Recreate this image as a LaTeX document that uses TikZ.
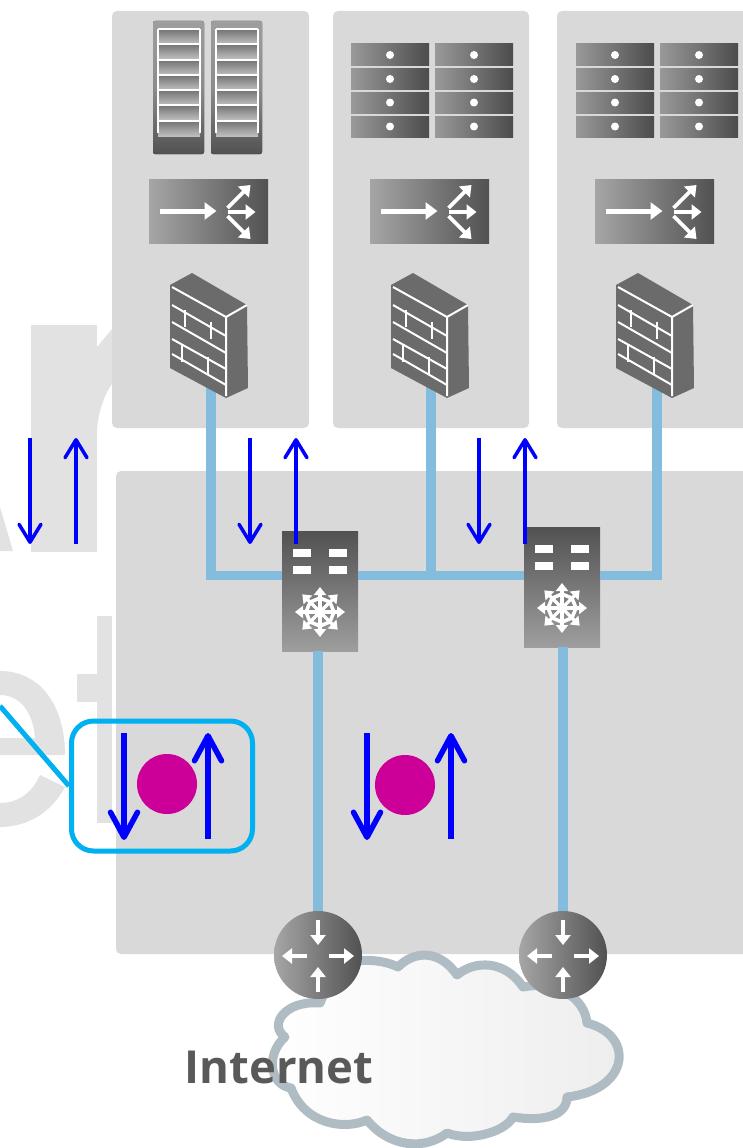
\documentclass[tikz,border=0pt]{standalone}
\usepackage{fontspec}
\newfontfamily\labelfont[Scale=1]{Open Sans}
\usetikzlibrary{arrows.meta}
\definecolor{panelgray}{HTML}{D9D9D9}
\definecolor{markgray}{HTML}{E2E2E2}
\definecolor{linkblue}{HTML}{84BCDD}
\definecolor{focusblue}{HTML}{00B0F0}
\definecolor{dotpink}{HTML}{CC0099}
\definecolor{cloudgray}{HTML}{B0BCC4}
\definecolor{flowblue}{HTML}{0000FF}
\tikzset{
  panel/.style={fill=panelgray,rounded corners=5pt},
  bigletter/.style={fill=markgray},
  linkline/.style={draw=linkblue,line width=9.5pt},
  lightdark/.style={left color=black!35,right color=black!68},
  whitehead/.style={white,line width=3.6pt,-{Triangle[length=10pt,width=15pt]}},
  fwbox/.style={minimum width=78pt,minimum height=125pt,inner sep=0pt},
  lbbox/.style={lightdark,minimum width=119pt,minimum height=64pt,inner sep=0pt},
  swbox/.style={top color=black!68,bottom color=black!38,minimum width=76pt,minimum height=120pt,inner sep=0pt},
  rtbox/.style={circle,lightdark,minimum size=88pt,inner sep=0pt},
  dotnode/.style={circle,fill=dotpink,minimum size=60pt,inner sep=0pt},
  focusbox/.style={draw=focusblue,line width=5pt,rounded corners=22pt,minimum width=181pt,minimum height=130pt,inner sep=0pt},
  thinflow/.style={flowblue,line width=3.5pt,-{Straight Barb[round,length=18pt,width=22pt]}},
  boldflow/.style={flowblue,line width=5.5pt,-{Straight Barb[round,length=25pt,width=27pt]}},
  lbicon/.pic={
    \draw[white,line width=5pt,-{Triangle[length=12pt,width=17pt]}] (-49,0)--(8,0);
    \draw[whitehead] (19,1)--(47,1);
    \draw[whitehead] (19,-3)--(42,-26);
    \draw[whitehead] (19,5)--(42,28);
  },
  fwicon/.pic={
    \fill[black!58] (-40,-51)--(-18,-63)--(37,-31)--(38,52)--(16,62)--(-40,32)--cycle;
    \draw[white,line width=2pt] (-38,-49)--(16,-19)--(37,-31) (16,-19)--(16,60);
    \draw[white,line width=2pt] (-38,-31)--(16,0) (-38,-14)--(16,17) (-38,3)--(16,33) (-38,18)--(16,49);
    \foreach \x/\y in {-25/-26,1/-14,-28/9,-2/21} \draw[white,line width=2pt] (\x,\y)--++(0,17);
  },
  swicon/.pic={
    \foreach \x in {-27,9} \foreach \y in {-42,-25} \fill[white] (\x,\y) rectangle ++(18,8);
    \foreach \a in {0,45,...,315} \draw[white,line width=3.2pt,-{Triangle[length=8pt,width=12pt]}] (0,21)--++(\a:25);
    \foreach \a in {0,45,...,315} \draw[white,line width=3.6pt] (\a:14)++(0,21)--++(\a+112.5:10.7);
  },
  rticon/.pic={
    \draw[whitehead] (0,-35)--(0,-10);
    \draw[whitehead] (0,37)--(0,12);
    \draw[whitehead] (-11,1)--(-36,1);
    \draw[whitehead] (11,1)--(36,1);
  },
  rackicon/.pic={
    \fill[top color=black!38,bottom color=black!68,middle color=black!45,rounded corners=2pt] (0,0) rectangle (51,133);
    \foreach \y in {8,23,39,54,69,84,100} \fill[top color=black!55,bottom color=black!25] (5,\y) rectangle (47,\y+15);
    \foreach \y in {8,23,39,54,69,84,100} \draw[white,line width=1.8pt] (5,\y)--(47,\y);
    \draw[white,line width=1.8pt] (5,8)--(5,112) (47,8)--(47,112);
  },
  bladeicon/.pic={
    \foreach \x in {0,84} \foreach \y/\h in {0/22,25/20,48/21,72/21}{
      \fill[left color=black!40,right color=black!70] (\x,\y) rectangle (\x+78,\y+\h);
      \fill[white] (\x+39,\y+\h/2) circle (4pt);
    }
  }
}
\begin{document}
\begin{tikzpicture}[x=1pt,y=-1pt]
  \useasboundingbox (0,0) rectangle (743,1148);
  \clip (0,0) rectangle (743,1148);
  % letters behind the panels
  \fill[bigletter] (0,507)--(13,551)--(0,551)--cycle;
  \fill[bigletter] (31,325) rectangle (97,552);
  \fill[bigletter] (97,347)--(112,329)--(112,384) .. controls (104,395) and (97,415) .. (97,434)--cycle;
  \fill[bigletter] (0,671) .. controls (40,671) and (65,705) .. (65,755)--(0,755)--(0,738)--(35,738) .. controls (33,712) and (20,695) .. (0,695)--cycle;
  \fill[bigletter] (40,775)--(65,787) .. controls (50,815) and (25,827) .. (0,827)--(0,803) .. controls (18,803) and (32,793) .. (40,775)--cycle;
  \fill[bigletter] (97,616) rectangle (112,823);
  \fill[bigletter] (77,674) rectangle (97,702);
  % panels
  \fill[panel] (112,11) rectangle (309,428);
  \fill[panel] (333,11) rectangle (529,428);
  \fill[panel] (557,11) rectangle (760,428);
  \fill[panel] (116,471) rectangle (760,954);
  % cloud
  \draw[draw=cloudgray,line width=9pt,left color=white,right color=black!7,line join=round]
    (320,1003) .. controls (285,1000) and (268,1025) .. (285,1037)
    .. controls (265,1055) and (270,1085) .. (291,1088)
    .. controls (305,1125) and (345,1130) .. (367,1120)
    .. controls (390,1148) and (425,1150) .. (447,1133)
    .. controls (470,1142) and (505,1132) .. (513,1117)
    .. controls (545,1122) and (567,1115) .. (567,1097)
    .. controls (630,1090) and (635,1035) .. (587,1023)
    .. controls (585,1000) and (560,980) .. (523,987)
    .. controls (505,960) and (475,960) .. (457,975)
    .. controls (440,950) and (415,950) .. (398,967)
    .. controls (380,958) and (350,958) .. (335,968)--cycle;
  % devices
  \foreach \n/\x in {1/211,2/431,3/657} \node[fwbox] (fw\n) at (\x,336) {};
  \foreach \n/\x in {1/208.5,2/429.5,3/654.5} \node[lbbox] (lb\n) at (\x,211) {};
  \node[swbox] (sw1) at (320,591) {};
  \node[swbox] (sw2) at (562,587) {};
  \node[rtbox] (rt1) at (318,955) {};
  \node[rtbox] (rt2) at (563,955) {};
  \coordinate (busl) at (sw1.west |- 0,575.5);
  \coordinate (busm) at (sw1.east |- 0,575.5);
  \coordinate (busa) at (sw2.west |- 0,575.5);
  \coordinate (busb) at (sw2.east |- 0,575.5);
  % links
  \draw[linkline] (fw1.center) |- (busl);
  \draw[linkline] (busm) -- (busa);
  \draw[linkline] (fw2.center) -- (fw2.center |- busm);
  \draw[linkline] (busb) -| (fw3.center);
  \draw[linkline] (sw1.south -| rt1.north) -- (rt1.north);
  \draw[linkline] (sw2.south -| rt2.north) -- (rt2.north);
  % icons
  \foreach \n/\x in {1/210,2/431,3/656} \pic at (\x,336) {fwicon};
  \foreach \n/\x in {1/208.5,2/429.5,3/654.5} \pic at (\x,211) {lbicon};
  \pic at (320,591) {swicon};
  \pic at (562,587) {swicon};
  \pic at (318,955) {rticon};
  \pic at (563,955) {rticon};
  \pic at (153,21) {rackicon};
  \pic at (211,21) {rackicon};
  \pic at (351,44) {bladeicon};
  \pic at (576,44) {bladeicon};
  % label
  \node[font=\labelfont\bfseries\fontsize{45.5}{50}\selectfont,text=black!65,inner sep=0pt] (inet) at (279,1067) {Internet};
  % flows
  \foreach \n/\x in {a/30,b/250,c/479} {
    \coordinate (\n top) at (\x,438);
    \coordinate (\n bot) at (\x,544);
    \draw[thinflow] (\n top) -- (\n bot);
  }
  \foreach \n/\x in {d/76,e/296,f/525} {
    \coordinate (\n top) at (\x,438);
    \coordinate (\n bot) at (\x,544);
    \draw[thinflow] (\n bot) -- (\n top);
  }
  \node[dotnode] (dot1) at (167,784) {};
  \node[dotnode] (dot2) at (405,785) {};
  \foreach \n/\x in {g/124,h/367} {
    \coordinate (\n top) at (\x,733);
    \coordinate (\n bot) at (\x,840);
    \draw[boldflow] (\n top) -- (\n bot);
  }
  \foreach \n/\x in {i/208,j/451} {
    \coordinate (\n top) at (\x,733);
    \coordinate (\n bot) at (\x,839);
    \draw[boldflow] (\n bot) -- (\n top);
  }
  \node[focusbox] (focus) at (162,786) {};
  \coordinate (leadend) at (0,706);
  \draw[focusblue,line width=5pt] (leadend) -- (focus.west);
\end{tikzpicture}
\end{document}
